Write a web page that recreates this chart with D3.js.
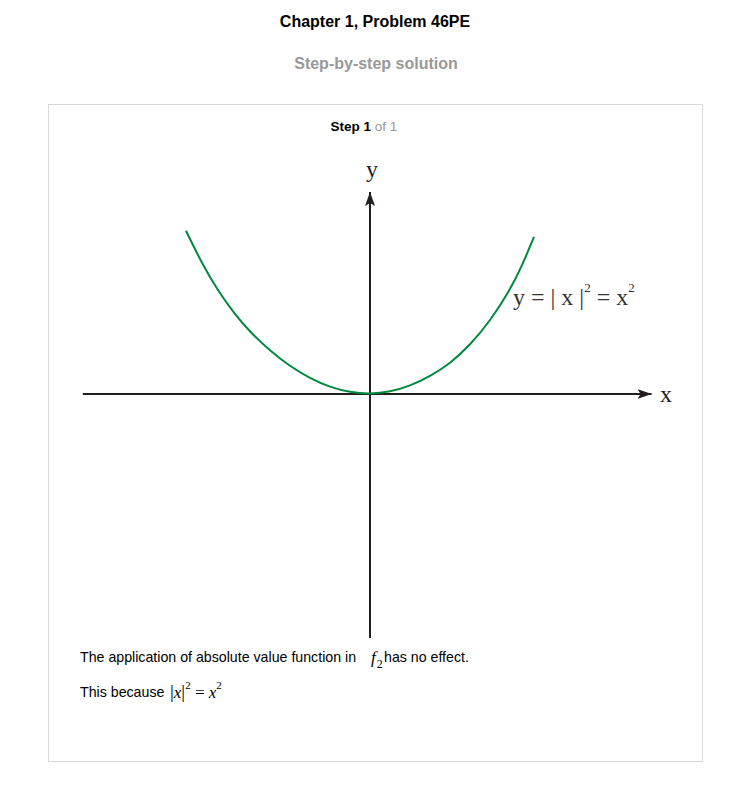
<!DOCTYPE html>
<html><head><meta charset="utf-8">
<script src="https://cdn.jsdelivr.net/npm/d3@7"></script>
<style>
body{margin:0;background:#fff;}
svg{display:block;}
</style></head>
<body>
<svg id="c" width="752" height="788"></svg>
<script>
// Curve sample points (data units)
const curveX = [-2.3, -2.1, -1.9, -1.7, -1.5, -1.25, -1.0, -0.75, -0.5, -0.25, 0, 0.25, 0.5, 0.75, 1.0, 1.25, 1.5, 1.75, 1.9, 2.05];
const curveY = [4.08, 3.26, 2.58, 2.02, 1.55, 1.08, 0.69, 0.39, 0.17, 0.043, 0, 0.05, 0.2, 0.44, 0.76, 1.22, 1.82, 2.6, 3.2, 3.93];
const xAxisExtent = [-3.59, 3.52];
const yAxisExtent = [-6.1, 5.05];

const svg = d3.select("#c");
const x = d3.scaleLinear().domain([0, 1]).range([370, 450]);
const y = d3.scaleLinear().domain([0, 1]).range([394, 354]);

const sans = "Liberation Sans, Arial, sans-serif";
const serif = "Liberation Serif, Times New Roman, serif";

// Header
svg.append("text").attr("x", 375).attr("y", 27).attr("text-anchor", "middle")
  .attr("font-family", sans).attr("font-size", 16).attr("font-weight", "bold")
  .attr("fill", "#000").text("Chapter 1, Problem 46PE");
svg.append("text").attr("x", 376).attr("y", 69).attr("text-anchor", "middle")
  .attr("font-family", sans).attr("font-size", 16).attr("font-weight", "bold")
  .attr("fill", "#999").text("Step-by-step solution");

// Box
svg.append("rect").attr("x", 48.5).attr("y", 104.5).attr("width", 654).attr("height", 657)
  .attr("fill", "none").attr("stroke", "#d9d9d9").attr("stroke-width", 1);

const st = svg.append("text").attr("x", 364).attr("y", 131).attr("text-anchor", "middle")
  .attr("font-family", sans).attr("font-size", 13.5);
st.append("tspan").attr("font-weight", "bold").attr("fill", "#000").text("Step 1");
st.append("tspan").attr("fill", "#999").text(" of 1");

// Arrow marker
const defs = svg.append("defs");
defs.append("marker").attr("id", "arr").attr("viewBox", "0 0 14 10").attr("refX", 14).attr("refY", 5)
  .attr("markerWidth", 14).attr("markerHeight", 10).attr("markerUnits", "userSpaceOnUse").attr("orient", "auto")
  .append("path").attr("d", "M0,0 L14,5 L0,10 L3,5 Z").attr("fill", "#231f20");

// Axes
svg.append("line").attr("x1", x(xAxisExtent[0])).attr("x2", x(xAxisExtent[1]))
  .attr("y1", y(0)).attr("y2", y(0)).attr("stroke", "#231f20").attr("stroke-width", 2)
  .attr("marker-end", "url(#arr)");
svg.append("line").attr("x1", x(0)).attr("x2", x(0))
  .attr("y1", y(yAxisExtent[0])).attr("y2", y(yAxisExtent[1])).attr("stroke", "#231f20").attr("stroke-width", 2)
  .attr("marker-end", "url(#arr)");

// Curve
const pts = curveX.map((d, i) => [d, curveY[i]]);
svg.append("path").datum(pts)
  .attr("d", d3.line().x(d => x(d[0])).y(d => y(d[1])).curve(d3.curveBasis))
  .attr("fill", "none").attr("stroke", "#00893f").attr("stroke-width", 2);

// Axis labels
svg.append("text").attr("x", 372).attr("y", 177).attr("text-anchor", "middle")
  .attr("font-family", serif).attr("font-size", 24).attr("fill", "#231f20").text("y");
svg.append("text").attr("x", 666).attr("y", 402).attr("text-anchor", "middle")
  .attr("font-family", serif).attr("font-size", 24).attr("fill", "#231f20").text("x");

// Equation label
const eq = svg.append("text").attr("x", 513).attr("y", 305)
  .attr("font-family", serif).attr("font-size", 24).attr("fill", "#333");
eq.append("tspan").text("y = | x |");
eq.append("tspan").attr("font-size", 13).attr("dy", -13).text("2");
eq.append("tspan").attr("dy", 13).text(" = x");
eq.append("tspan").attr("font-size", 13).attr("dy", -13).text("2");

// Text lines
svg.append("text").attr("x", 80).attr("y", 662).attr("font-family", sans).attr("font-size", 14.2)
  .attr("fill", "#000").text("The application of absolute value function in");
const f2 = svg.append("text").attr("x", 371).attr("y", 663).attr("font-family", serif).attr("font-size", 17).attr("fill", "#000");
f2.append("tspan").attr("font-style", "italic").text("f");
f2.append("tspan").attr("font-size", 12).attr("dy", 5).attr("dx", 1).text("2");
svg.append("text").attr("x", 384).attr("y", 662).attr("font-family", sans).attr("font-size", 14.2)
  .attr("fill", "#000").text("has no effect.");

svg.append("text").attr("x", 80).attr("y", 697).attr("font-family", sans).attr("font-size", 14.2)
  .attr("fill", "#000").text("This because");
const m = svg.append("text").attr("x", 170).attr("y", 698).attr("font-family", serif).attr("font-size", 17).attr("fill", "#000");
m.append("tspan").attr("font-size", 19).text("|");
m.append("tspan").attr("font-style", "italic").text("x");
m.append("tspan").attr("font-size", 19).text("|");
m.append("tspan").attr("font-size", 11).attr("dy", -9).text("2");
m.append("tspan").attr("dy", 9).text(" = ");
m.append("tspan").attr("font-style", "italic").text("x");
m.append("tspan").attr("font-size", 11).attr("dy", -9).text("2");
</script>
</body></html>
